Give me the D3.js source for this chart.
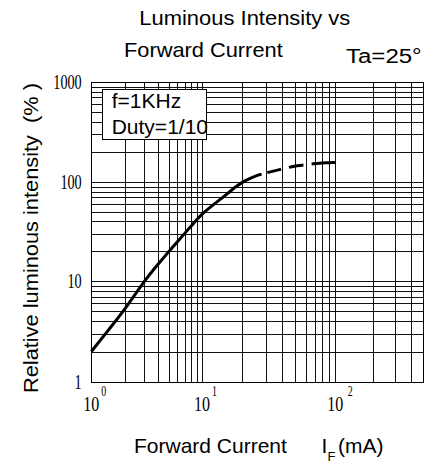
<!DOCTYPE html>
<html>
<head>
<meta charset="utf-8">
<script src="https://cdn.jsdelivr.net/npm/d3@7"></script>
<style>
  body { margin: 0; background: #fff; }
  svg { display: block; }
  text { font-family: "Liberation Sans", Arial, sans-serif; fill: #000; }
  .num { font-family: "Liberation Serif", "Times New Roman", serif; }
</style>
</head>
<body>
<script>
// data: forward current (mA) vs relative luminous intensity (%)
var solidCurrent   = [1, 1.5, 2, 3, 4, 5, 6, 8, 10, 13, 16, 18, 20, 22, 25, 28];
var solidIntensity = [2, 3.5, 5.2, 10, 14.7, 19.8, 25, 36, 48, 63, 79, 90, 99, 106, 114, 120];
var dashCurrent    = [28, 33, 44, 50, 70, 85, 100];
var dashIntensity  = [120, 127, 139, 145, 153, 156, 157];

var xDecades = [1, 10, 100, 500];
var yDecades = [1, 10, 100, 1000];
var xTickExp = ["0", "1", "2"];
var yTickLabels = ["1", "10", "100", "1000"];
var legendLines = ["f=1KHz", "Duty=1/10"];

var W = 424, H = 464;
// (window.top is read-only, so no plain "top" here)
var plotL = 91.3, plotR = 423, plotT = 82, plotB = 382;

var svg = d3.select("body").append("svg")
    .attr("width", W)
    .attr("height", H);

// log axes, one linear piece per decade (the printed decades are not all equal)
var xPiece = d3.scaleLinear()
    .domain(xDecades.map(Math.log10))
    .range([plotL, 202, 335.3, plotR]);
var yPiece = d3.scaleLinear()
    .domain(yDecades.map(Math.log10))
    .range([plotB, 281, 182, plotT]);
function x(v) { return xPiece(Math.log10(v)); }
function y(v) { return yPiece(Math.log10(v)); }

// grid lines: every 1..9 in each decade
var xGrid = [];
for (var d = 1; d <= 100; d *= 10) {
    for (var k = 1; k <= 9; k++) {
        if (d * k <= 500) xGrid.push(d * k);
    }
}
xGrid.push(500);
var yGrid = [];
for (var d = 1; d <= 100; d *= 10) {
    for (var k = 1; k <= 9; k++) yGrid.push(d * k);
}
yGrid.push(1000);

var grid = svg.append("g")
    .attr("stroke", "#111")
    .attr("stroke-width", 1)
    .attr("shape-rendering", "crispEdges");

grid.selectAll("line.vx")
    .data(xGrid)
  .enter().append("line")
    .attr("class", "vx")
    .attr("x1", function(d) { return Math.round(x(d)) + 0.5; })
    .attr("x2", function(d) { return Math.round(x(d)) + 0.5; })
    .attr("y1", plotT)
    .attr("y2", plotB);

grid.selectAll("line.hy")
    .data(yGrid)
  .enter().append("line")
    .attr("class", "hy")
    .attr("x1", plotL)
    .attr("x2", plotR)
    .attr("y1", function(d) { return Math.round(y(d)) + 0.5; })
    .attr("y2", function(d) { return Math.round(y(d)) + 0.5; });

// frame
svg.append("rect")
    .attr("x", Math.round(plotL) + 0.5)
    .attr("y", plotT + 0.5)
    .attr("width", Math.round(plotR) - Math.round(plotL))
    .attr("height", plotB - plotT)
    .attr("fill", "none")
    .attr("stroke", "#000")
    .attr("shape-rendering", "crispEdges");

// curve
var line = d3.line()
    .x(function(d) { return x(d[0]); })
    .y(function(d) { return y(d[1]); })
    .curve(d3.curveBasis);

svg.append("path")
    .datum(d3.zip(solidCurrent, solidIntensity))
    .attr("d", line)
    .attr("fill", "none")
    .attr("stroke", "#000")
    .attr("stroke-width", 3);

svg.append("path")
    .datum(d3.zip(dashCurrent, dashIntensity))
    .attr("d", line)
    .attr("fill", "none")
    .attr("stroke", "#000")
    .attr("stroke-width", 3)
    .attr("stroke-dasharray", "0,6,14,8,15,8,40");

// legend box
svg.append("rect")
    .attr("x", 102.5)
    .attr("y", 89.5)
    .attr("width", 104)
    .attr("height", 50)
    .attr("fill", "#fff")
    .attr("stroke", "#000")
    .attr("shape-rendering", "crispEdges");

svg.selectAll("text.legend")
    .data(legendLines)
  .enter().append("text")
    .attr("class", "legend")
    .attr("x", 111.7)
    .attr("y", function(d, i) { return 107.7 + i * 26.6; })
    .style("font-size", "21px")
    .text(function(d) { return d; });

// y tick labels
svg.selectAll("text.ylab")
    .data(yTickLabels)
  .enter().append("text")
    .attr("class", "num ylab")
    .attr("x", 81.7)
    .attr("y", function(d) { return y(+d) + 7; })
    .attr("text-anchor", "end")
    .attr("textLength", function(d) { return d.length * 7.1; })
    .attr("lengthAdjust", "spacingAndGlyphs")
    .style("font-size", "20px")
    .text(function(d) { return d; });

// x tick labels 10^n
var xl = svg.selectAll("g.xlab")
    .data(xTickExp)
  .enter().append("g")
    .attr("class", "xlab")
    .attr("transform", function(d) { return "translate(" + x(Math.pow(10, +d)) + ",0)"; });

xl.append("text")
    .attr("class", "num")
    .attr("x", -8)
    .attr("y", 411)
    .attr("textLength", 16)
    .attr("lengthAdjust", "spacingAndGlyphs")
    .style("font-size", "22px")
    .text("10");

xl.append("text")
    .attr("class", "num")
    .attr("x", function(d) { return d == "2" ? 12.5 : 10; })
    .attr("y", 396)
    .attr("textLength", 5)
    .attr("lengthAdjust", "spacingAndGlyphs")
    .style("font-size", "14px")
    .text(function(d) { return d; });

// titles
svg.append("text")
    .attr("x", 139.3)
    .attr("y", 25)
    .attr("textLength", 211)
    .attr("lengthAdjust", "spacingAndGlyphs")
    .style("font-size", "20px")
    .text("Luminous Intensity vs");

svg.append("text")
    .attr("x", 124)
    .attr("y", 56.7)
    .attr("textLength", 158.7)
    .attr("lengthAdjust", "spacingAndGlyphs")
    .style("font-size", "21px")
    .text("Forward Current");

svg.append("text")
    .attr("x", 346)
    .attr("y", 63.3)
    .attr("textLength", 75.7)
    .attr("lengthAdjust", "spacingAndGlyphs")
    .style("font-size", "20px")
    .text("Ta=25°");

// x axis title with subscript
var xt = svg.append("text")
    .attr("x", 134)
    .attr("y", 452.7)
    .style("font-size", "21px");
xt.append("tspan").text("Forward Current");
xt.append("tspan").attr("x", 321.5).text("I");
xt.append("tspan").attr("x", 327.5).attr("dy", 8).style("font-size", "13px").text("F");
xt.append("tspan").attr("x", 338).attr("dy", -8).text("(mA)");

// y axis title
svg.append("text")
    .attr("transform", "translate(38.3,238) rotate(-90)")
    .attr("text-anchor", "middle")
    .attr("textLength", 310)
    .attr("lengthAdjust", "spacingAndGlyphs")
    .style("font-size", "21px")
    .style("white-space", "pre")
    .text("Relative luminous intensity  (% )");
</script>
</body>
</html>
